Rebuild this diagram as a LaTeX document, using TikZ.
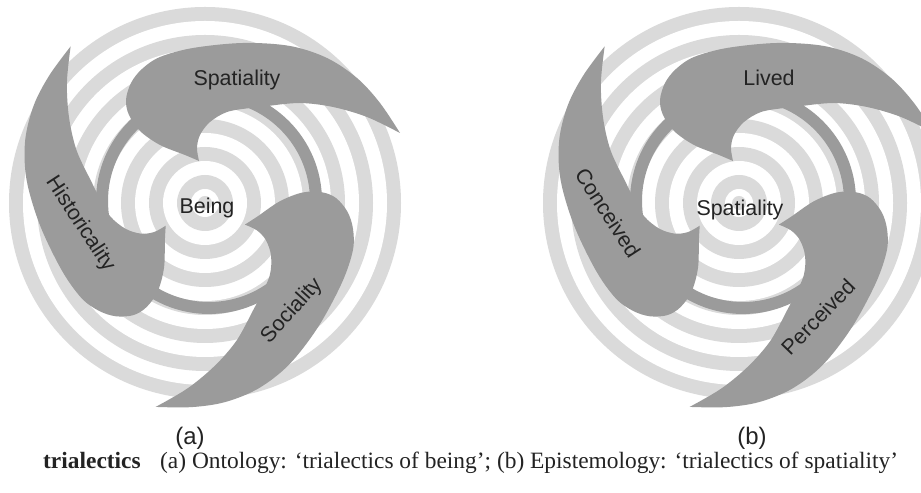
\documentclass[tikz,border=0pt]{standalone}
\usepackage{fontspec}
\setmainfont{Liberation Serif}
\setsansfont{Liberation Sans}
\definecolor{ringgray}{RGB}{218,218,218}
\definecolor{bladegray}{RGB}{155,155,155}
\definecolor{inkgray}{RGB}{35,35,35}
\tikzset{
  % one comma-shaped blade: rounded head, sharp outer tip, hollow bay
  blade/.pic={
    \fill[bladegray]
      plot[smooth,tension=0.55] coordinates {(-6,44) (-20,50) (-45,60) (-65,74) (-76,90) (-79,105) (-74,122) (-63,136) (-45,148) (-12,157) (38,162) (85,159) (122,147) (152,127) (175,102) (195,72)}
      -- plot[smooth,tension=0.55] coordinates {(195,72) (162,88) (128,98) (95,102) (63,99)}
      -- plot[smooth,tension=0.55] coordinates {(63,99) (45,97) (22,93) (5,83) (-5,70) (-8,57) (-6,44)}
      -- cycle;
  },
  % concentric bands, linking ring and three blades
  trialectic/.pic={
    \foreach \r/\c in {196/ringgray,182/white,168/ringgray,154/white,140/ringgray,126/white,112/ringgray,98/white,84/ringgray,70/white,56/ringgray,42/white,28/ringgray,14/white,7/ringgray}
      \fill[\c] (0,2) circle (\r);
    \fill[bladegray,even odd rule] (4,4) circle (113) (4,4) circle (101);
    \pic {blade};
    \pic[rotate=110] {blade};
    \pic[rotate=-124] {blade};
  },
  term/.style={font=\sffamily\fontsize{21.5}{21.5}\selectfont, text=inkgray, inner sep=0pt},
  panel/.style={font=\sffamily\fontsize{24}{24}\selectfont, text=inkgray, inner sep=0pt},
  caption/.style={font=\fontsize{23.5}{24}\selectfont, text=inkgray, inner sep=0pt, anchor=base west}
}
\begin{document}
\begin{tikzpicture}[x=1bp,y=1bp]
  \useasboundingbox (0,0) rectangle (921,493);
  \clip (0,0) rectangle (921,493);
  \fill[white] (0,0) rectangle (921,493);

  % (a) ontology
  \pic at (205,288) {trialectic};
  \node[term] (spat) at (237,413) {Spatiality};
  \node[term] (being) at (207,285) {Being};
  \node[term,rotate=-57] (hist) at (80,269) {Historicality};
  \node[term,rotate=48] (soc) at (292,182) {Sociality};

  % (b) epistemology
  \pic at (739,288) {trialectic};
  \node[term] (lived) at (769,415) {Lived};
  \node[term] (spatb) at (740,283) {Spatiality};
  \node[term,rotate=-57] (conc) at (608,280) {Conceived};
  \node[term,rotate=46] (perc) at (818,176) {Perceived};

  % panel letters and caption
  \node[panel] (pa) at (190,55) {(a)};
  \node[panel] (pb) at (752,55) {(b)};
  \node[caption] (capt) at (43,24) {\textbf{trialectics}};
  \node[caption] (capb) at (160,24) {(a) Ontology: ‘trialectics of being’; (b) Epistemology: ‘trialectics of spatiality’};
\end{tikzpicture}
\end{document}
